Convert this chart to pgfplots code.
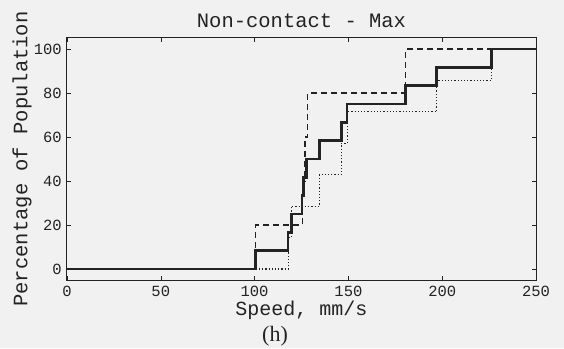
\documentclass[border=0pt]{standalone}
\usepackage{pgfplots}
\pgfplotsset{compat=1.18}
\usepackage{fontspec}
\setmainfont{Liberation Serif}
\newfontfamily\monofont{Liberation Mono}
\definecolor{paper}{RGB}{241,241,241}
\definecolor{ink}{RGB}{35,35,35}

\begin{document}
\begin{tikzpicture}
\fill[paper] (-67pt,-68pt) rectangle (497pt,280pt);
\useasboundingbox (-67pt,-68pt) rectangle (497pt,280pt);
\begin{axis}[
  name=ax,
  at={(0,0)}, anchor=south west,
  scale only axis, width=469pt, height=242pt,
  xmin=0, xmax=250, ymin=-5, ymax=105,
  xtick={0,50,...,250}, ytick={0,20,...,100},
  tick align=inside, major tick length=4pt,
  tick style={ink, line width=0.6pt},
  axis line style={ink, line width=1pt},
  ticklabel style={font=\fontsize{15.5}{15.5}\monofont, text=ink},
  /pgf/number format/assume math mode=true,
  xticklabel style={anchor=base, inner sep=0pt, yshift=-16.5pt},
  yticklabel style={anchor=east, inner sep=0pt, xshift=-5pt},
  title={Non-contact - Max},
  title style={font=\fontsize{20.5}{20.5}\monofont, text=ink,
    at={(axis description cs:0.5,1)}, anchor=center, yshift=11pt},
  xlabel={Speed, mm/s},
  xlabel style={font=\fontsize{20}{20}\monofont, text=ink, inner sep=0pt,
    at={(axis description cs:0.5,0)}, anchor=base, yshift=-35.5pt},
  ylabel={Percentage of Population},
  ylabel style={font=\fontsize{20.5}{20.5}\monofont, text=ink,
    at={(axis description cs:0,0.5)}, anchor=center, yshift=45pt},
  const plot,
]
% dashed group: five subjects
\addplot[ink, line width=1.4pt, dash pattern=on 6pt off 4pt] coordinates {
  (0,0) (100.5,20) (125.5,40) (126.8,60) (128.3,80) (180.5,100) (250,100)};
% dotted group: seven subjects
\addplot[ink, line width=1.1pt, dash pattern=on 1.2pt off 2pt] coordinates {
  (0,0) (118,14.29) (119.5,28.57) (134.5,42.86) (146.3,57.14)
  (149.5,71.43) (197.1,85.71) (226.4,100) (250,100)};
% solid line: all twelve subjects
\addplot[ink, line width=2.8pt] coordinates {
  (0,0) (100.5,8.33) (117.8,16.67) (119.8,25) (125.3,33.33) (126.2,41.67)
  (127.7,50) (134.5,58.33) (146.3,66.67) (149.2,75) (180.5,83.33)
  (197.1,91.67) (226.4,100) (250,100)};
\end{axis}
\node[font=\fontsize{22}{22}\selectfont, text=ink, anchor=base, inner sep=0pt]
  at ([xshift=-26.5pt,yshift=-61.5pt]ax.south) {(h)};
\end{tikzpicture}
\end{document}
